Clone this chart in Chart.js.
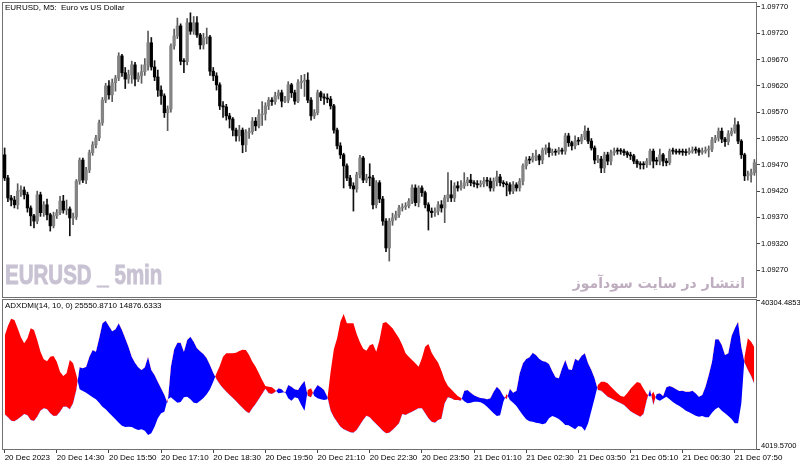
<!DOCTYPE html>
<html>
<head>
<meta charset="utf-8">
<script src="https://cdn.jsdelivr.net/npm/chart.js@4.4.1/dist/chart.umd.min.js"></script>
<style>
  html, body { margin: 0; padding: 0; background: #fff; width: 800px; height: 466px; overflow: hidden; }
  canvas { position: absolute; left: 0; }
  #price { top: 0; }
  #ind { top: 298px; }
  .txt { position: absolute; white-space: pre; font: 8px 'Liberation Sans', Arial, sans-serif; color: #000; line-height: 10px; }
</style>
</head>
<body>
<canvas id="price" width="800" height="298"></canvas>
<canvas id="ind" width="800" height="168"></canvas>
<div class="txt" style="left:5px;top:3px">EURUSD, M5:  Euro vs US Dollar</div>
<div style="position:absolute;left:5px;top:262px;font:bold 27px 'Liberation Sans',Arial,sans-serif;line-height:27px;color:#c8c2d3;-webkit-text-stroke:0.9px #c8c2d3;transform:scaleX(0.76);transform-origin:0 0;white-space:pre">EURUSD _ 5min</div>
<div dir="rtl" style="position:absolute;right:55px;top:274px;font:bold 14px 'DejaVu Sans',sans-serif;line-height:18px;color:#bfaec0;white-space:pre">انتشار در سایت سودآموز</div>
<div class="txt" style="left:5px;top:301px">ADXDMI(14, 10, 0) 25550.8710 14876.6333</div>
<script>
// EURUSD M5, 20 Dec 13:10 -> 21 Dec 08:20 (231 bars)
const opens = [
  1.09489,1.09445,1.09407,1.09403,1.09394,1.09420,1.09422,1.09413,1.09388,1.09373,
  1.09363,1.09413,1.09379,1.09394,1.09375,1.09354,1.09373,1.09379,1.09401,1.09384,
  1.09386,1.09369,1.09371,1.09439,1.09479,1.09441,1.09460,1.09493,1.09508,1.09521,
  1.09550,1.09593,1.09620,1.09603,1.09626,1.09635,1.09677,1.09645,1.09633,1.09641,
  1.09660,1.09633,1.09639,1.09647,1.09660,1.09702,1.09656,1.09637,1.09612,1.09601,
  1.09569,1.09576,1.09696,1.09715,1.09734,1.09667,1.09666,1.09740,1.09724,1.09740,
  1.09717,1.09698,1.09711,1.09713,1.09648,1.09639,1.09622,1.09582,1.09580,1.09563,
  1.09557,1.09536,1.09525,1.09536,1.09508,1.09531,1.09533,1.09553,1.09544,1.09565,
  1.09567,1.09582,1.09593,1.09590,1.09601,1.09607,1.09591,1.09593,1.09622,1.09607,
  1.09591,1.09626,1.09629,1.09631,1.09593,1.09563,1.09569,1.09607,1.09599,1.09597,
  1.09595,1.09582,1.09536,1.09506,1.09489,1.09468,1.09445,1.09430,1.09424,1.09451,
  1.09483,1.09441,1.09445,1.09445,1.09394,1.09436,1.09405,1.09363,1.09312,1.09363,
  1.09369,1.09375,1.09388,1.09390,1.09392,1.09401,1.09426,1.09398,1.09426,1.09417,
  1.09394,1.09382,1.09379,1.09382,1.09394,1.09388,1.09407,1.09413,1.09407,1.09430,
  1.09426,1.09430,1.09436,1.09441,1.09436,1.09434,1.09432,1.09434,1.09439,1.09439,
  1.09426,1.09439,1.09447,1.09436,1.09434,1.09432,1.09420,1.09432,1.09426,1.09439,
  1.09468,1.09479,1.09479,1.09485,1.09487,1.09479,1.09498,1.09502,1.09493,1.09494,
  1.09494,1.09498,1.09496,1.09525,1.09512,1.09506,1.09515,1.09515,1.09523,1.09534,
  1.09515,1.09502,1.09479,1.09481,1.09464,1.09489,1.09477,1.09493,1.09496,1.09496,
  1.09496,1.09493,1.09489,1.09487,1.09477,1.09472,1.09470,1.09470,1.09477,1.09496,
  1.09477,1.09477,1.09489,1.09477,1.09474,1.09496,1.09496,1.09494,1.09494,1.09494,
  1.09493,1.09496,1.09498,1.09498,1.09494,1.09496,1.09498,1.09500,1.09517,1.09521,
  1.09534,1.09519,1.09514,1.09529,1.09534,1.09546,1.09515,1.09489,1.09449,1.09451,
  1.09455
];
const closes = [
  1.09445,1.09407,1.09403,1.09394,1.09420,1.09422,1.09413,1.09388,1.09373,1.09363,
  1.09413,1.09379,1.09394,1.09375,1.09354,1.09373,1.09379,1.09401,1.09384,1.09386,
  1.09369,1.09371,1.09439,1.09479,1.09441,1.09460,1.09493,1.09508,1.09521,1.09550,
  1.09593,1.09620,1.09603,1.09626,1.09635,1.09677,1.09645,1.09633,1.09641,1.09660,
  1.09633,1.09639,1.09647,1.09660,1.09702,1.09656,1.09637,1.09612,1.09601,1.09569,
  1.09576,1.09696,1.09715,1.09734,1.09667,1.09666,1.09740,1.09724,1.09740,1.09717,
  1.09698,1.09711,1.09713,1.09648,1.09639,1.09622,1.09582,1.09580,1.09563,1.09557,
  1.09536,1.09525,1.09536,1.09508,1.09531,1.09533,1.09553,1.09544,1.09565,1.09567,
  1.09582,1.09593,1.09590,1.09601,1.09607,1.09591,1.09593,1.09622,1.09607,1.09591,
  1.09626,1.09629,1.09631,1.09593,1.09563,1.09569,1.09607,1.09599,1.09597,1.09595,
  1.09582,1.09536,1.09506,1.09489,1.09468,1.09445,1.09430,1.09424,1.09451,1.09483,
  1.09441,1.09445,1.09445,1.09394,1.09436,1.09405,1.09363,1.09312,1.09363,1.09369,
  1.09375,1.09388,1.09390,1.09392,1.09401,1.09426,1.09398,1.09426,1.09417,1.09394,
  1.09382,1.09379,1.09382,1.09394,1.09388,1.09407,1.09413,1.09407,1.09430,1.09426,
  1.09430,1.09436,1.09441,1.09436,1.09434,1.09432,1.09434,1.09439,1.09439,1.09426,
  1.09439,1.09447,1.09436,1.09434,1.09432,1.09420,1.09432,1.09426,1.09439,1.09468,
  1.09479,1.09479,1.09485,1.09487,1.09479,1.09498,1.09502,1.09493,1.09494,1.09494,
  1.09498,1.09496,1.09525,1.09512,1.09506,1.09515,1.09515,1.09523,1.09534,1.09515,
  1.09502,1.09479,1.09481,1.09464,1.09489,1.09477,1.09493,1.09496,1.09496,1.09496,
  1.09493,1.09489,1.09487,1.09477,1.09472,1.09470,1.09470,1.09477,1.09496,1.09477,
  1.09477,1.09489,1.09477,1.09474,1.09496,1.09496,1.09494,1.09494,1.09494,1.09493,
  1.09496,1.09498,1.09498,1.09494,1.09496,1.09498,1.09500,1.09517,1.09521,1.09534,
  1.09519,1.09514,1.09529,1.09534,1.09546,1.09515,1.09489,1.09449,1.09451,1.09455,
  1.09474
];
const highs = [
  1.09502,1.09450,1.09412,1.09410,1.09434,1.09430,1.09428,1.09418,1.09392,1.09376,
  1.09420,1.09418,1.09400,1.09405,1.09378,1.09380,1.09385,1.09410,1.09412,1.09403,
  1.09390,1.09378,1.09442,1.09483,1.09483,1.09465,1.09498,1.09514,1.09526,1.09555,
  1.09598,1.09625,1.09630,1.09633,1.09640,1.09683,1.09680,1.09655,1.09650,1.09667,
  1.09665,1.09645,1.09660,1.09672,1.09724,1.09712,1.09668,1.09650,1.09620,1.09605,
  1.09582,1.09700,1.09728,1.09749,1.09738,1.09672,1.09748,1.09759,1.09752,1.09752,
  1.09720,1.09720,1.09730,1.09716,1.09655,1.09645,1.09626,1.09590,1.09585,1.09568,
  1.09560,1.09540,1.09545,1.09540,1.09537,1.09540,1.09560,1.09560,1.09575,1.09590,
  1.09588,1.09598,1.09598,1.09608,1.09612,1.09612,1.09600,1.09628,1.09625,1.09612,
  1.09632,1.09640,1.09642,1.09645,1.09598,1.09575,1.09612,1.09610,1.09605,1.09605,
  1.09600,1.09585,1.09540,1.09512,1.09492,1.09472,1.09450,1.09436,1.09456,1.09488,
  1.09486,1.09452,1.09472,1.09450,1.09440,1.09440,1.09410,1.09368,1.09368,1.09378,
  1.09382,1.09393,1.09396,1.09398,1.09406,1.09432,1.09432,1.09430,1.09430,1.09420,
  1.09398,1.09388,1.09388,1.09400,1.09402,1.09412,1.09455,1.09440,1.09436,1.09438,
  1.09440,1.09455,1.09446,1.09452,1.09440,1.09440,1.09440,1.09446,1.09446,1.09445,
  1.09445,1.09458,1.09452,1.09440,1.09438,1.09436,1.09438,1.09436,1.09444,1.09472,
  1.09485,1.09486,1.09492,1.09498,1.09490,1.09502,1.09508,1.09512,1.09500,1.09500,
  1.09503,1.09502,1.09530,1.09530,1.09515,1.09525,1.09522,1.09528,1.09544,1.09540,
  1.09520,1.09506,1.09488,1.09486,1.09494,1.09494,1.09498,1.09502,1.09502,1.09501,
  1.09500,1.09496,1.09494,1.09490,1.09480,1.09476,1.09476,1.09482,1.09500,1.09500,
  1.09484,1.09500,1.09492,1.09482,1.09500,1.09502,1.09500,1.09500,1.09500,1.09500,
  1.09502,1.09504,1.09504,1.09502,1.09502,1.09504,1.09506,1.09522,1.09526,1.09540,
  1.09540,1.09522,1.09535,1.09540,1.09559,1.09552,1.09518,1.09492,1.09458,1.09462,
  1.09480
];
const lows = [
  1.09440,1.09400,1.09392,1.09388,1.09386,1.09410,1.09405,1.09380,1.09354,1.09350,
  1.09358,1.09372,1.09372,1.09365,1.09344,1.09350,1.09368,1.09375,1.09378,1.09375,
  1.09335,1.09356,1.09366,1.09433,1.09436,1.09434,1.09455,1.09488,1.09502,1.09516,
  1.09545,1.09588,1.09595,1.09590,1.09610,1.09630,1.09638,1.09615,1.09625,1.09625,
  1.09620,1.09628,1.09625,1.09640,1.09650,1.09650,1.09630,1.09600,1.09585,1.09560,
  1.09535,1.09570,1.09690,1.09710,1.09660,1.09645,1.09660,1.09718,1.09718,1.09712,
  1.09690,1.09690,1.09700,1.09640,1.09630,1.09612,1.09575,1.09560,1.09555,1.09540,
  1.09525,1.09515,1.09515,1.09493,1.09495,1.09520,1.09528,1.09535,1.09540,1.09545,
  1.09555,1.09575,1.09583,1.09585,1.09595,1.09580,1.09588,1.09588,1.09598,1.09585,
  1.09588,1.09615,1.09600,1.09588,1.09555,1.09558,1.09565,1.09592,1.09585,1.09588,
  1.09576,1.09530,1.09500,1.09482,1.09426,1.09440,1.09425,1.09382,1.09418,1.09445,
  1.09436,1.09436,1.09430,1.09386,1.09388,1.09398,1.09355,1.09305,1.09287,1.09355,
  1.09365,1.09370,1.09382,1.09385,1.09388,1.09396,1.09392,1.09390,1.09410,1.09388,
  1.09346,1.09370,1.09372,1.09375,1.09380,1.09360,1.09400,1.09400,1.09400,1.09420,
  1.09422,1.09425,1.09430,1.09430,1.09428,1.09426,1.09428,1.09428,1.09430,1.09420,
  1.09420,1.09430,1.09430,1.09428,1.09411,1.09414,1.09415,1.09420,1.09420,1.09432,
  1.09462,1.09472,1.09475,1.09478,1.09470,1.09472,1.09490,1.09485,1.09488,1.09488,
  1.09490,1.09490,1.09490,1.09505,1.09498,1.09500,1.09508,1.09510,1.09518,1.09510,
  1.09498,1.09472,1.09474,1.09455,1.09455,1.09470,1.09470,1.09488,1.09490,1.09490,
  1.09488,1.09484,1.09480,1.09472,1.09465,1.09462,1.09462,1.09465,1.09470,1.09464,
  1.09470,1.09470,1.09468,1.09468,1.09470,1.09490,1.09490,1.09490,1.09488,1.09488,
  1.09490,1.09492,1.09492,1.09488,1.09490,1.09492,1.09485,1.09495,1.09512,1.09515,
  1.09512,1.09505,1.09508,1.09525,1.09530,1.09510,1.09482,1.09440,1.09441,1.09437,
  1.09450
];

// ADXDMI filling: red where adxA is above adxB, blue where it is below
const adxA = [
  31540,33970,35760,35440,33400,31210,29750,30970,33400,33000,
  30560,27720,25860,25370,26510,26670,25290,22850,21800,22450,
  25690,24880,22040,18550,18150,17740,17170,16600,16120,15310,
  14330,13680,12870,12060,11250,10430,9700,9380,9460,9380,
  8970,8650,8810,8490,7430,7840,9460,11490,12710,13110,
  16120,16600,15950,15310,15470,16600,16770,16120,15310,15140,
  15790,16440,17330,18550,20420,22450,24230,26510,27320,27320,
  27320,27480,27890,28210,28130,26910,25290,24070,22450,20820,
  19360,19200,19040,18390,17580,17740,17980,16360,15790,16600,
  16360,14740,13360,18390,18800,16930,16360,16120,15950,16120,
  22850,28290,30970,35030,36900,34620,34620,34620,32030,30000,
  28450,27970,29270,29590,27720,30560,34620,34950,34220,33400,
  32190,30970,29350,27320,26510,25690,24880,24070,26100,28940,
  29590,27480,26180,25050,23100,20820,19360,18550,17740,16930,
  16440,15630,15140,15310,15550,15550,15390,14980,14330,13520,
  12710,12060,12220,15550,17420,15950,15310,14490,13360,12220,
  11250,10760,10680,10430,10270,10030,10270,11490,12060,11730,
  11330,10680,9870,9790,9300,8810,9620,9460,8490,10270,
  13360,16360,19610,20420,20420,20010,19200,18390,17580,16930,
  16770,17580,18710,19530,20340,20090,18710,17420,16770,17980,
  16120,15790,16280,16770,16120,15470,14900,14490,13930,13360,
  12950,12550,12140,11900,12060,11730,11730,12870,13680,14170,
  13360,12710,12060,11330,10270,10270,15140,26510,30970,30160,
  28780
];
const adxB = [
  12460,11730,10920,10760,11250,11900,12550,12220,11080,10840,
  11900,13360,13930,13680,12710,12060,12140,13110,14330,14330,
  13680,15140,18390,23910,23670,24070,26510,28130,27720,30970,
  34620,35270,33970,32680,33160,34620,33000,30970,28940,26510,
  25050,23910,23260,23910,26510,23260,22040,20420,18800,17250,
  15140,24070,28290,29920,29920,27720,30560,31380,30160,28540,
  27810,27160,26100,24480,22610,20990,19770,18800,17980,17170,
  16440,15630,14820,14010,13190,12710,13930,14980,16200,17420,
  18710,17580,17420,17900,18800,18550,17660,19610,19200,18550,
  18390,19610,20660,16930,16600,18390,19610,19040,18390,16770,
  13360,11730,10600,9460,8810,8490,8080,8000,8650,9870,
  11080,12140,11730,10920,10110,9300,8490,7840,8000,8650,
  9460,10270,12550,12300,12710,13110,13520,13930,13930,12710,
  11490,10680,10430,11080,11410,15140,16600,16360,15950,15950,
  15790,18230,18390,17740,17090,16770,16440,16360,16120,16360,
  17980,19200,18390,16930,16120,18710,17740,18230,22450,24880,
  25940,26340,27480,26910,26020,25450,25290,24720,23020,21470,
  21230,23670,25690,23420,23260,26020,25530,26750,27320,24880,
  23260,21230,18390,18230,17500,16770,16360,15950,15550,15140,
  14740,14010,13190,12710,12300,11900,12550,15950,18550,14740,
  17420,17580,16930,19040,19360,19040,18550,18150,18230,17980,
  17980,18230,17580,16770,17170,19200,22040,25290,30730,30730,
  29350,26910,27320,31540,33400,35030,28940,25050,23260,21800,
  19770
];

const timeTicks = ['20 Dec 2023', '20 Dec 14:30', '20 Dec 15:50', '20 Dec 17:10', '20 Dec 18:30',
  '20 Dec 19:50', '20 Dec 21:10', '20 Dec 22:30', '20 Dec 23:50', '21 Dec 01:10',
  '21 Dec 02:30', '21 Dec 03:50', '21 Dec 05:10', '21 Dec 06:30', '21 Dec 07:50'];
const barsPerTick = 16;
const priceTicks = [1.09270, 1.09320, 1.09370, 1.09420, 1.09470, 1.09520, 1.09570, 1.09620, 1.09670, 1.09720, 1.09770];
const adxRange = [4019.5700, 40304.4853];

const bars = closes.map((c, i) => i);
const bodies = closes.map((c, i) => [Math.min(opens[i], c), Math.max(opens[i], c)]);
const wicks = lows.map((l, i) => [l, highs[i]]);
const bull = closes.map((c, i) => c > opens[i]);

Chart.defaults.font.family = "'Liberation Sans', Arial, sans-serif";
Chart.defaults.font.size = 8;
Chart.defaults.color = '#000';

// grey frame round each window
const frame = {
  id: 'frame',
  afterDraw(chart) {
    const { ctx, chartArea: a } = chart;
    ctx.save();
    ctx.strokeStyle = '#707070';
    ctx.lineWidth = 1;
    ctx.strokeRect(a.left - 0.5, a.top - 0.5, a.right - a.left + 1, a.bottom - a.top + 1);
    ctx.restore();
  }
};

new Chart(document.getElementById('price'), {
  type: 'bar',
  data: {
    labels: bars,
    datasets: [
      {
        data: bodies,
        backgroundColor: bull.map(b => b ? '#848484' : '#000'),
        barThickness: 2.6,
        minBarLength: 1,
        grouped: false
      },
      {
        data: wicks,
        backgroundColor: bull.map(b => b ? '#5a5a5a' : '#111'),
        barThickness: 1,
        grouped: false
      }
    ]
  },
  options: {
    responsive: false,
    animation: false,
    layout: { padding: { left: 3, top: 3, right: 0, bottom: 1 } },
    plugins: { legend: { display: false }, tooltip: { enabled: false } },
    scales: {
      x: { display: false, offset: true },
      y: {
        position: 'right',
        min: 1.092187,
        max: 1.097776,
        afterBuildTicks: s => { s.ticks = priceTicks.map(v => ({ value: v })); },
        afterFit: s => { s.width = 44; s.paddingTop = 0; s.paddingBottom = 0; },
        ticks: { callback: v => v.toFixed(5), padding: 1, font: { size: 7.5 } },
        grid: { drawOnChartArea: false, tickLength: 4, color: '#444' },
        border: { color: '#444' }
      }
    }
  },
  plugins: [frame]
});

new Chart(document.getElementById('ind'), {
  type: 'line',
  data: {
    labels: bars,
    datasets: [
      {
        data: adxA,
        fill: { target: '+1', above: '#ff0000', below: '#0000ff' },
        borderColor: 'rgba(0,0,0,0)',
        borderWidth: 0,
        pointRadius: 0,
        tension: 0
      },
      {
        data: adxB,
        fill: false,
        borderColor: 'rgba(0,0,0,0)',
        borderWidth: 0,
        pointRadius: 0,
        tension: 0
      }
    ]
  },
  options: {
    responsive: false,
    animation: false,
    layout: { padding: { left: 3, top: 2, right: 0, bottom: 0 } },
    plugins: { legend: { display: false }, tooltip: { enabled: false } },
    scales: {
      x: {
        offset: true,
        afterBuildTicks: s => { s.ticks = s.ticks.filter(t => t.value % barsPerTick === 0); },
        afterFit: s => { s.height = 17; s.paddingLeft = 0; s.paddingRight = 0; },
        ticks: {
          autoSkip: false,
          maxRotation: 0,
          align: 'start',
          padding: 0,
          font: { size: 8 },
          callback: v => timeTicks[v / barsPerTick]
        },
        grid: { drawOnChartArea: false, tickLength: 4, color: '#444', offset: false },
        border: { color: '#444' }
      },
      y: {
        position: 'right',
        min: adxRange[0],
        max: adxRange[1],
        afterBuildTicks: s => { s.ticks = adxRange.map(v => ({ value: v })); },
        afterFit: s => { s.width = 44; s.paddingTop = 0; s.paddingBottom = 0; },
        ticks: {
          // push the edge labels inside the window, like the terminal does
          callback: v => v > 20000 ? ['', v.toFixed(4)] : [v.toFixed(4), ''],
          padding: 1,
          font: { size: 7.5, lineHeight: 0.8 }
        },
        grid: { drawOnChartArea: false, tickLength: 4, color: '#444' },
        border: { color: '#444' }
      }
    }
  },
  plugins: [frame]
});
</script>
</body>
</html>
